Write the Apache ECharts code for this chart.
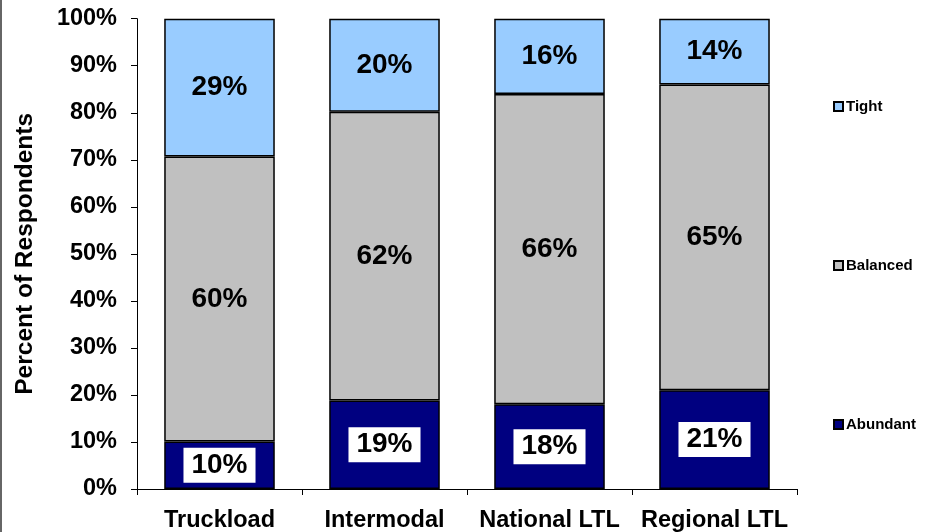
<!DOCTYPE html>
<html>
<head>
<meta charset="utf-8">
<script src="https://cdn.jsdelivr.net/npm/echarts@6/dist/echarts.min.js"></script>
<style>html,body{margin:0;padding:0;background:#fff}#c{width:930px;height:532px}</style>
</head>
<body>
<div id="c"></div>
<script>
const categories = ['Truckload', 'Intermodal', 'National LTL', 'Regional LTL'];
const abundant = [10, 19, 18, 21];
const balanced = [60, 62, 66, 65];
const tight = [29, 20, 16, 14];
const yTicks = [0, 10, 20, 30, 40, 50, 60, 70, 80, 90, 100];

const FONT = '"Liberation Sans", Arial, sans-serif';
const totals = categories.map((_, i) => abundant[i] + balanced[i] + tight[i]);
const norm = arr => arr.map((v, i) => v / totals[i] * 100);

function mk(name, raw, color, labelExtra) {
  return {
    name: name,
    type: 'bar',
    stack: 'total',
    barWidth: '67%',
    data: norm(raw),
    itemStyle: { color: color, borderColor: '#000', borderWidth: 1.5 },
    label: Object.assign({
      show: true,
      position: 'inside',
      color: '#000',
      fontFamily: FONT,
      fontWeight: 'bold',
      fontSize: 28,
      formatter: p => raw[p.dataIndex] + '%'
    }, labelExtra || {})
  };
}

const chart = echarts.init(document.getElementById('c'));
chart.setOption({
  animation: false,
  backgroundColor: '#fff',
  textStyle: { fontFamily: FONT },
  grid: { left: 137, right: 133, top: 18.7, bottom: 43, containLabel: false, outerBoundsMode: 'none' },
  legend: {
    orient: 'vertical',
    left: 833,
    top: 99,
    padding: 0,
    itemWidth: 9,
    itemHeight: 9,
    itemGap: 144,
    icon: 'rect',
    data: ['Tight', 'Balanced', 'Abundant'],
    textStyle: { fontFamily: FONT, fontWeight: 'bold', fontSize: 15, color: '#000', padding: [0, 0, 0, -2] }
  },
  xAxis: {
    type: 'category',
    data: categories,
    axisLine: { lineStyle: { color: '#000', width: 1 } },
    axisTick: { show: true, length: 6, alignWithLabel: false, lineStyle: { color: '#000' } },
    axisLabel: { color: '#000', fontFamily: FONT, fontWeight: 'bold', fontSize: 23.5, margin: 20, interval: 0 }
  },
  yAxis: {
    type: 'value',
    min: yTicks[0],
    max: yTicks[yTicks.length - 1],
    interval: 10,
    name: 'Percent of Respondents',
    nameLocation: 'middle',
    nameGap: 99,
    nameTextStyle: { color: '#000', fontFamily: FONT, fontWeight: 'bold', fontSize: 24.5 },
    axisLine: { show: true, lineStyle: { color: '#000', width: 1 } },
    axisTick: { show: true, length: 6, lineStyle: { color: '#000' } },
    splitLine: { show: false },
    axisLabel: { color: '#000', fontFamily: FONT, fontWeight: 'bold', fontSize: 23.5, margin: 20, formatter: '{value}%' }
  },
  series: [
    mk('Abundant', abundant, '#000080', { backgroundColor: '#fff', padding: [4, 8, 3, 8] }),
    mk('Balanced', balanced, '#C0C0C0'),
    mk('Tight', tight, '#99CCFF')
  ],
  graphic: [{
    type: 'line',
    shape: { x1: 1, y1: 0, x2: 1, y2: 532 },
    style: { stroke: '#333', lineWidth: 1.5 }
  }]
});
</script>
</body>
</html>
